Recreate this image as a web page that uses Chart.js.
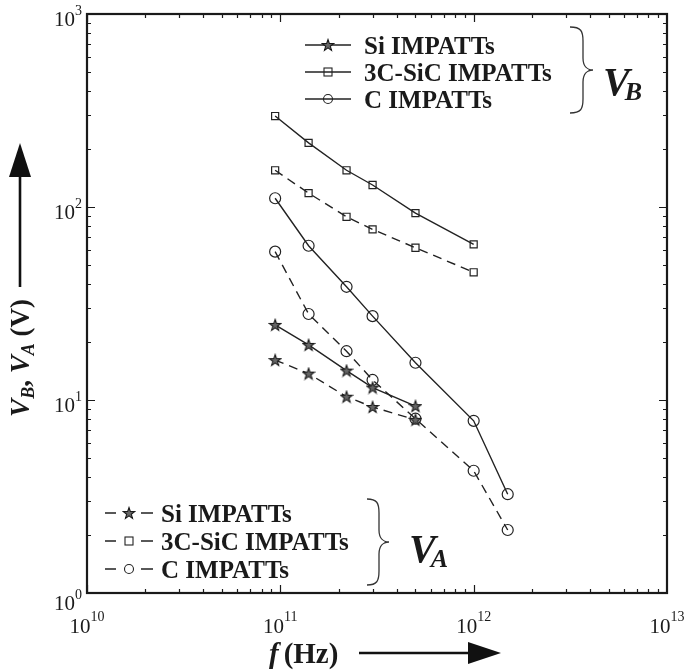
<!DOCTYPE html>
<html>
<head>
<meta charset="utf-8">
<script src="https://cdn.jsdelivr.net/npm/chart.js@4"></script>
<style>
html,body{margin:0;padding:0;background:#fff;}
#wrap{width:686px;height:670px;position:relative;}
</style>
</head>
<body>
<div id="wrap"><canvas id="c" width="686" height="670"></canvas></div>
<script>
// ---- data ----
const freqSi  = [94e9, 140e9, 220e9, 300e9, 500e9];
const freqSiC = [94e9, 140e9, 220e9, 300e9, 500e9, 1e12];
const freqC   = [94e9, 140e9, 220e9, 300e9, 500e9, 1e12, 1.5e12];

const siVB  = [24.5, 19.3, 14.2, 11.6, 9.3];
const sicVB = [296, 215, 155, 130, 93, 64];
const cVB   = [111, 63, 38.6, 27.2, 15.6, 7.8, 3.25];

const siVA  = [16.1, 13.7, 10.4, 9.2, 7.9];
const sicVA = [155, 118, 89, 76.6, 61.5, 45.9];
const cVA   = [58.7, 27.9, 17.9, 12.7, 8.0, 4.3, 2.12];

const seriesNames = ['Si IMPATTs', '3C-SiC IMPATTs', 'C IMPATTs'];

const xTickValues = [1e10, 1e11, 1e12, 1e13];
const xTickExps   = ['10', '11', '12', '13'];
const yTickValues = [1, 10, 100, 1000];
const yTickExps   = ['0', '1', '2', '3'];

// ---- marker images ----
function starCanvas() {
  const c = document.createElement('canvas');
  c.width = 14; c.height = 14;
  const g = c.getContext('2d');
  g.beginPath();
  for (let i = 0; i < 10; i++) {
    const r = i % 2 ? 2.4 : 6;
    const ang = -Math.PI / 2 + i * Math.PI / 5;
    g.lineTo(7 + r * Math.cos(ang), 7.5 + r * Math.sin(ang));
  }
  g.closePath();
  g.fillStyle = '#666';
  g.fill();
  g.strokeStyle = '#1a1a1a';
  g.lineWidth = 1.1;
  g.stroke();
  return c;
}
const starImg = starCanvas();

const LINE = '#222';
const DASH = [9, 6];
function toPts(xs, ys) { return xs.map((v, i) => ({x: v, y: ys[i]})); }
function ds(label, xs, ys, style, dashed, group) {
  const base = {
    label: label,
    group: group,
    data: toPts(xs, ys),
    showLine: true,
    borderColor: LINE,
    borderWidth: 1.4,
    borderDash: dashed ? DASH : [],
    backgroundColor: 'rgba(0,0,0,0)',
    pointBorderColor: LINE,
    pointBackgroundColor: 'rgba(0,0,0,0)',
    pointBorderWidth: 1.2,
    pointHoverRadius: 0,
    tension: 0
  };
  if (style === 'star') { base.pointStyle = starImg; base.pointRadius = 6; }
  else if (style === 'rect') { base.pointStyle = 'rect'; base.pointRadius = 5; }
  else { base.pointStyle = 'circle'; base.pointRadius = 5.5; }
  base.markerKind = style;
  return base;
}

const datasets = [
  ds(seriesNames[0], freqSi,  siVB,  'star',   false, 'VB'),
  ds(seriesNames[1], freqSiC, sicVB, 'rect',   false, 'VB'),
  ds(seriesNames[2], freqC,   cVB,   'circle', false, 'VB'),
  ds(seriesNames[0], freqSi,  siVA,  'star',   true,  'VA'),
  ds(seriesNames[1], freqSiC, sicVA, 'rect',   true,  'VA'),
  ds(seriesNames[2], freqC,   cVA,   'circle', true,  'VA')
];

const SERIF = '"Liberation Serif", "Times New Roman", serif';
const TXT = '#1a1a1a';

function drawMarker(ctx, kind, cx, cy) {
  ctx.save();
  ctx.setLineDash([]);
  ctx.strokeStyle = LINE;
  ctx.lineWidth = 1.1;
  if (kind === 'star') {
    ctx.drawImage(starImg, cx - 7, cy - 7);
  } else if (kind === 'rect') {
    ctx.strokeRect(cx - 4, cy - 4, 8, 8);
  } else {
    ctx.beginPath(); ctx.arc(cx, cy, 4.5, 0, Math.PI * 2); ctx.stroke();
  }
  ctx.restore();
}

function drawBrace(ctx, x0, xs, x1, yt, ym, yb) {
  ctx.save();
  ctx.strokeStyle = '#333';
  ctx.lineWidth = 1.3;
  ctx.setLineDash([]);
  ctx.beginPath();
  ctx.moveTo(x0, yt);
  ctx.bezierCurveTo(xs - 2, yt, xs, yt + 4, xs, yt + 14);
  ctx.lineTo(xs, ym - 12);
  ctx.bezierCurveTo(xs, ym - 3, x1 - 5, ym, x1, ym);
  ctx.bezierCurveTo(x1 - 5, ym, xs, ym + 3, xs, ym + 12);
  ctx.lineTo(xs, yb - 14);
  ctx.bezierCurveTo(xs, yb - 4, xs - 2, yb, x0, yb);
  ctx.stroke();
  ctx.restore();
}

function drawLegend(ctx, chart, group, xl, xr, ytop, rowGap, textX) {
  const items = chart.data.datasets.filter(d => d.group === group);
  items.forEach((d, i) => {
    const cy = ytop + i * rowGap;
    const mx = (xl + xr) / 2;
    ctx.save();
    ctx.strokeStyle = LINE;
    ctx.lineWidth = 1.4;
    ctx.setLineDash([]);
    ctx.beginPath();
    if (d.borderDash.length) {
      ctx.moveTo(xl, cy); ctx.lineTo(xl + 11, cy);
      ctx.moveTo(xr - 12, cy); ctx.lineTo(xr, cy);
    } else {
      ctx.moveTo(xl, cy); ctx.lineTo(xr, cy);
    }
    ctx.stroke();
    ctx.restore();
    drawMarker(ctx, d.markerKind, mx, cy);
    ctx.save();
    ctx.fillStyle = TXT;
    ctx.font = 'bold 25px ' + SERIF;
    ctx.textAlign = 'left';
    ctx.textBaseline = 'alphabetic';
    ctx.fillText(d.label, textX, cy + 8.5);
    ctx.restore();
  });
}

function drawVSym(ctx, sub, x, baseline) {
  ctx.save();
  ctx.fillStyle = TXT;
  ctx.textAlign = 'left';
  ctx.textBaseline = 'alphabetic';
  ctx.font = 'italic bold 40px ' + SERIF;
  ctx.fillText('V', x, baseline);
  const w = ctx.measureText('V').width;
  ctx.font = 'italic bold 26px ' + SERIF;
  ctx.fillText(sub, x + w - 5, baseline + 5);
  ctx.restore();
}

const decor = {
  id: 'decor',
  afterDraw(chart) {
    const ctx = chart.ctx;
    const a = chart.chartArea;
    const xs = chart.scales.x, ys = chart.scales.y;
    ctx.save();
    ctx.setLineDash([]);
    ctx.strokeStyle = '#1a1a1a';
    ctx.lineWidth = 1.2;
    ctx.beginPath();
    for (let d = 10; d < 13; d++) {
      for (let m = 1; m < 10; m++) {
        const px = Math.round(xs.getPixelForValue(m * Math.pow(10, d))) + 0.5;
        const L = m === 1 ? 8 : 4;
        ctx.moveTo(px, a.bottom); ctx.lineTo(px, a.bottom - L);
        ctx.moveTo(px, a.top); ctx.lineTo(px, a.top + L);
      }
    }
    for (let d = 0; d < 3; d++) {
      for (let m = 1; m < 10; m++) {
        const py = Math.round(ys.getPixelForValue(m * Math.pow(10, d))) + 0.5;
        const L = m === 1 ? 8 : 4;
        ctx.moveTo(a.left, py); ctx.lineTo(a.left + L, py);
        ctx.moveTo(a.right, py); ctx.lineTo(a.right - L, py);
      }
    }
    ctx.stroke();
    ctx.lineWidth = 2.2;
    ctx.strokeRect(a.left, a.top, a.right - a.left, a.bottom - a.top);

    // tick labels
    ctx.fillStyle = TXT;
    ctx.textBaseline = 'alphabetic';
    const fBase = '21px ' + SERIF, fExp = '14px ' + SERIF;
    xTickValues.forEach((v, i) => {
      const px = xs.getPixelForValue(v);
      ctx.font = fBase; const w1 = ctx.measureText('10').width;
      ctx.font = fExp; const w2 = ctx.measureText(xTickExps[i]).width;
      const x0 = px - (w1 + w2) / 2;
      ctx.font = fBase; ctx.textAlign = 'left';
      ctx.fillText('10', x0, a.bottom + 40);
      ctx.font = fExp;
      ctx.fillText(xTickExps[i], x0 + w1, a.bottom + 28);
    });
    yTickValues.forEach((v, i) => {
      const py = ys.getPixelForValue(v);
      ctx.font = fExp; const w2 = ctx.measureText(yTickExps[i]).width;
      const right = a.left - 5;
      ctx.textAlign = 'right';
      const off = i === 0 ? 5 : 0;
      ctx.fillText(yTickExps[i], right, py + 1 + off);
      ctx.font = fBase;
      ctx.fillText('10', right - w2, py + 12 + off);
    });

    // x axis title
    ctx.textAlign = 'left';
    ctx.font = 'italic bold 29px ' + SERIF;
    const tx = 269, tyb = 663;
    ctx.fillText('f', tx, tyb);
    const wf = ctx.measureText('f').width;
    ctx.font = 'bold 29px ' + SERIF;
    ctx.fillText('(Hz)', tx + wf + 5, tyb);
    ctx.strokeStyle = '#111';
    ctx.lineWidth = 2.6;
    ctx.beginPath(); ctx.moveTo(359, 653); ctx.lineTo(472, 653); ctx.stroke();
    ctx.fillStyle = '#111';
    ctx.beginPath(); ctx.moveTo(468, 642); ctx.lineTo(501, 653); ctx.lineTo(468, 664); ctx.closePath(); ctx.fill();

    // y axis title
    ctx.save();
    ctx.translate(29, 358);
    ctx.rotate(-Math.PI / 2);
    ctx.fillStyle = TXT;
    const parts = [
      ['V', 'italic bold 27px ', 0],
      ['B', 'italic bold 18px ', 5],
      [', ', 'bold 27px ', 0],
      ['V', 'italic bold 27px ', 0],
      ['A', 'italic bold 18px ', 5],
      [' (V)', 'bold 27px ', 0]
    ];
    let total = 0;
    parts.forEach(p => { ctx.font = p[1] + SERIF; total += ctx.measureText(p[0]).width; });
    let cx = -total / 2;
    ctx.textAlign = 'left';
    parts.forEach(p => { ctx.font = p[1] + SERIF; ctx.fillText(p[0], cx, p[2]); cx += ctx.measureText(p[0]).width; });
    ctx.restore();
    ctx.strokeStyle = '#111';
    ctx.lineWidth = 2.6;
    ctx.beginPath(); ctx.moveTo(20, 287); ctx.lineTo(20, 172); ctx.stroke();
    ctx.fillStyle = '#111';
    ctx.beginPath(); ctx.moveTo(9, 177); ctx.lineTo(20, 143); ctx.lineTo(31, 177); ctx.closePath(); ctx.fill();

    // legends with braces
    drawLegend(ctx, chart, 'VB', 305, 351, 45, 27, 364);
    drawBrace(ctx, 570, 583, 593, 27, 70, 113);
    drawVSym(ctx, 'B', 603, 95);

    drawLegend(ctx, chart, 'VA', 105, 153, 513, 28, 161);
    drawBrace(ctx, 367, 379, 389, 499, 542, 585);
    drawVSym(ctx, 'A', 409, 562);

    ctx.restore();
  }
};

new Chart(document.getElementById('c'), {
  type: 'scatter',
  data: { datasets: datasets },
  options: {
    responsive: false,
    animation: false,
    devicePixelRatio: 1,
    layout: { padding: { left: 87, right: 19, top: 14, bottom: 77 }, autoPadding: false },
    plugins: { legend: { display: false }, tooltip: { enabled: false } },
    events: [],
    scales: {
      x: {
        type: 'logarithmic', min: 1e10, max: 1e13,
        grid: { display: false, drawTicks: false },
        border: { display: false },
        ticks: { display: false },
        afterFit: s => { s.height = 0; }
      },
      y: {
        type: 'logarithmic', min: 1, max: 1000,
        grid: { display: false, drawTicks: false },
        border: { display: false },
        ticks: { display: false },
        afterFit: s => { s.width = 0; }
      }
    }
  },
  plugins: [decor]
});
</script>
</body>
</html>
